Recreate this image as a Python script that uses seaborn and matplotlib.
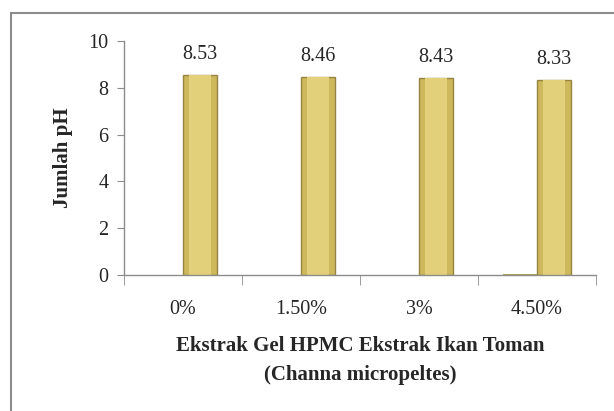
import numpy as np
import pandas as pd
import matplotlib.pyplot as plt
import seaborn as sns
from matplotlib.patches import Rectangle

kadar = ['0%', '1.50%', '3%', '4.50%']
ph = [8.53, 8.46, 8.43, 8.33]
# the empty first series of the original chart (only a hairline shows at 4.50%)
seri_kosong = [0, 0, 0, 0.05]
y_ticks = [0, 2, 4, 6, 8, 10]

df = pd.DataFrame({'kadar': kadar * 2,
                   'ph': seri_kosong + ph,
                   'seri': ['a'] * 4 + ['b'] * 4})

sns.set_style('white')
plt.rcParams['font.family'] = ['Liberation Serif', 'DejaVu Serif']

fig = plt.figure(figsize=(6.14, 4.11), dpi=100)
ax = fig.add_axes([124/614, 1-275/411, (596-124)/614, (275-41)/411])

# outer border of the chart (runs off right and bottom)
fig.patches.append(Rectangle((11/614, -0.05), 1.2, 1-13/411+0.05, transform=fig.transFigure,
                             fill=False, edgecolor='#8c8c8c', linewidth=1.5))

sns.barplot(data=df, x='kadar', y='ph', hue='seri', palette=['#b5a24e', '#cdb85c'],
            width=0.58, edgecolor='#968440', linewidth=1.0, saturation=1,
            legend=False, ax=ax)
for p in ax.containers[0]:
    p.set_linewidth(0)

# lighter inner face for a bevelled look
for p in ax.containers[1]:
    w = p.get_width()
    ax.add_patch(Rectangle((p.get_x() + w*0.17, 0), w*0.66, p.get_height(),
                           facecolor='#e3d07a', linewidth=0, zorder=p.get_zorder()+0.1))

ax.bar_label(ax.containers[1], labels=[f'{v:.2f}' for v in ph], padding=8, fontsize=14.5)

ax.set_ylim(0, 10)
ax.set_xlim(-0.5, 3.5)
ax.set_yticks(y_ticks)
ax.tick_params(axis='y', labelsize=14.5, length=5, color='#8c8c8c', left=True, pad=6)
ax.tick_params(axis='x', labelsize=14.5, length=0, pad=18)
ax.set_xticks(np.arange(-0.5, 4, 1), minor=True)
ax.tick_params(axis='x', which='minor', length=7, color='#8c8c8c', bottom=True)

for s in ['top', 'right']:
    ax.spines[s].set_visible(False)
for s in ['left', 'bottom']:
    ax.spines[s].set_color('#8c8c8c')
    ax.spines[s].set_linewidth(1.0)

ax.set_ylabel('Jumlah pH', fontsize=15, fontweight='bold')
ax.yaxis.set_label_coords((73-124)/472, 0.5)
ax.set_xlabel('Ekstrak Gel HPMC Ekstrak Ikan Toman\n(Channa micropeltes)',
              fontsize=15, fontweight='bold', labelpad=12.5, linespacing=1.55)

fig.savefig('out.png', dpi=100)
